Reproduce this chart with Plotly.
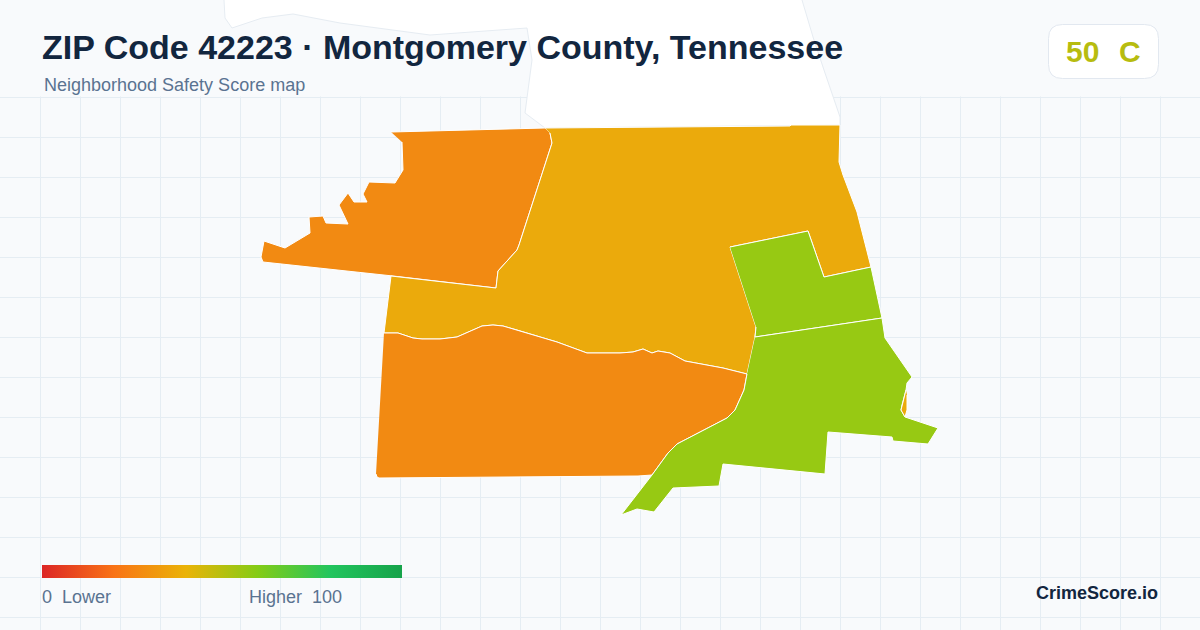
import plotly.graph_objects as go

bg = '#f8fafc'
title = 'ZIP Code 42223 · Montgomery County, Tennessee'
subtitle = 'Neighborhood Safety Score map'
score = '50'
grade = 'C'

ramp_stops = [0, 0.2, 0.4, 0.6, 0.8, 1]
ramp_colors = ['#dc2626', '#f97316', '#eab308', '#84cc16', '#22c55e', '#16a34a']

# outlines, in picture pixels
neighbor_x = [224, 225, 232, 262, 293, 340, 430, 527, 532, 527, 525, 545, 840, 840, 835, 825, 813, 802]
neighbor_y = [0, 18, 28, 18, 14, 23, 35, 28, 60, 97, 113, 128, 125, 117, 103, 73, 37, 0]

nw_x = [391, 427, 545, 550, 552, 519, 517, 498, 496, 393, 263, 261, 264, 285, 310, 309, 323, 326, 348, 339, 348,
        354, 367, 363, 369, 395, 403, 402]
nw_y = [132, 131, 128, 133, 143, 245, 250, 271, 288, 276, 262, 257, 241, 248, 233, 217, 216, 223, 224, 205, 193,
        202, 202, 194, 182, 183, 170, 142]

central_x = [545, 790, 791, 840, 839, 843, 857, 871, 824, 808, 730, 756, 755, 747, 723, 685, 670, 658, 652, 643,
             633, 620, 587, 557, 517, 503, 493, 482, 457, 440, 422, 413, 398, 384, 391, 496, 498, 517, 519, 552,
             550]
central_y = [128, 126, 125, 125, 162, 175, 212, 267, 277, 231, 247, 327, 337, 374, 368, 361, 353, 351, 353, 349,
             352, 353, 353, 342, 330, 326, 325, 326, 337, 339, 339, 338, 333, 333, 276, 288, 271, 250, 245, 143,
             133]

south_x = [384, 398, 413, 422, 440, 457, 482, 493, 503, 517, 557, 587, 620, 633, 643, 652, 658, 670, 685, 723,
           747, 744, 735, 727, 677, 668, 652, 638, 379, 377, 376]
south_y = [333, 333, 338, 339, 339, 337, 326, 325, 326, 330, 342, 353, 353, 352, 349, 353, 351, 353, 361, 368,
           374, 390, 410, 418, 444, 453, 475, 476, 478, 477, 474]

ne_x = [730, 808, 824, 871, 882, 755, 756]
ne_y = [247, 231, 277, 267, 318, 337, 327]

se_x = [755, 882, 885, 912, 907, 906, 902, 901, 905, 938, 928, 893, 892, 828, 825, 723, 719, 673, 654, 637, 621,
        652, 668, 677, 727, 735, 744, 747]
se_y = [337, 318, 338, 377, 383, 390, 405, 410, 417, 428, 444, 441, 437, 432, 474, 464, 486, 488, 512, 509, 515,
        475, 453, 444, 418, 410, 390, 374]

sliver_x = [906, 902, 901, 905, 907, 907]
sliver_y = [390, 405, 410, 417, 410, 395]

regions = [
    (nw_x, nw_y, '#f28a12'),
    (central_x, central_y, '#ebaa0c'),
    (south_x, south_y, '#f28a12'),
    (ne_x, ne_y, '#97c913'),
    (se_x, se_y, '#97c913'),
    (sliver_x, sliver_y, '#ebaa0c'),
]

fig = go.Figure()

fig.add_trace(go.Scatter(x=neighbor_x, y=neighbor_y, mode='lines', fill='toself', fillcolor='#ffffff',
                         line=dict(color='#e6ecf2', width=1), hoverinfo='skip', showlegend=False))

for xs, ys, color in regions:
    fig.add_trace(go.Scatter(x=xs, y=ys, mode='lines', fill='toself', fillcolor=color,
                             line=dict(color='#ffffff', width=1), hoverinfo='skip', showlegend=False))

# hidden points, only here to get the colour ramp drawn by plotly
fig.add_trace(go.Scatter(x=[None, None], y=[None, None], mode='markers', hoverinfo='skip', showlegend=False,
                         marker=dict(color=[0, 100], cmin=0, cmax=100, showscale=True,
                                     colorscale=list(zip(ramp_stops, ramp_colors)),
                                     colorbar=dict(orientation='h', lenmode='pixels', len=360, thickness=13,
                                                   x=42 / 1200, xanchor='left', y=1 - 565 / 630, yanchor='top',
                                                   xpad=0, ypad=0, outlinewidth=0, borderwidth=0,
                                                   showticklabels=False, ticks=''))))


def label(x, y, text, size, color, anchor='left', bold=False):
    fig.add_annotation(x=x, y=y, text='<b>%s</b>' % text if bold else text, showarrow=False, xanchor=anchor,
                       yanchor='middle', borderpad=0, font=dict(size=size, color=color))


label(41, 47, title, 34, '#12263f', bold=True)
label(43, 85, subtitle, 18, '#5a7391')
label(1065, 51, score, 30, '#b7bc0f', bold=True)
label(1118, 51, grade, 30, '#b7bc0f', bold=True)
label(41, 597, '0\u00a0\u00a0Lower', 18, '#5a7391')
label(248, 597, 'Higher\u00a0\u00a0100', 18, '#5a7391')
label(1159, 593, 'CrimeScore.io', 18, '#12263f', anchor='right', bold=True)

# header strip hides the grid, the neighbour outline stays on top of it
fig.add_shape(type='rect', x0=0, x1=1200, y0=0, y1=96.5, layer='between', fillcolor=bg, line_width=0)
fig.add_shape(type='path', layer='above', fillcolor='#ffffff', line=dict(color='#e2e8f0', width=1),
              path='M 1062.5 24.5 H 1144.5 Q 1158.5 24.5 1158.5 38.5 V 64.5 Q 1158.5 78.5 1144.5 78.5 '
                   'H 1062.5 Q 1048.5 78.5 1048.5 64.5 V 38.5 Q 1048.5 24.5 1062.5 24.5 Z')

fig.update_xaxes(range=[0, 1200], tick0=0.5, dtick=40, showgrid=True, gridcolor='#e5edf3', gridwidth=1,
                 zeroline=False, showticklabels=False, ticks='', showline=False, fixedrange=True)
fig.update_yaxes(range=[630, 0], tick0=97, dtick=40, showgrid=True, gridcolor='#e5edf3', gridwidth=1,
                 zeroline=False, showticklabels=False, ticks='', showline=False, fixedrange=True)
fig.update_layout(width=1200, height=630, margin=dict(l=0, r=0, t=0, b=0), paper_bgcolor=bg, plot_bgcolor=bg,
                  font=dict(family='Liberation Sans, Arial, sans-serif'), showlegend=False)

# the page has a default 8px body margin, the picture has none
fig.write_html('out.html', config={'displayModeBar': False},
               post_script="document.body.style.margin = '0'; document.body.style.overflow = 'hidden';")
